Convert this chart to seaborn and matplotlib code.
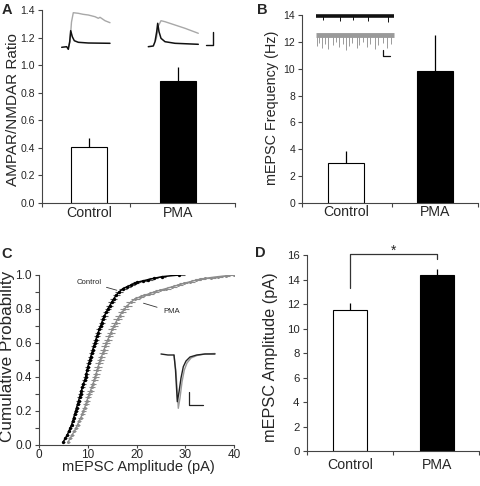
import numpy as np
import matplotlib
matplotlib.use('Agg')
import matplotlib.pyplot as plt
import seaborn as sns

sns.set_style('ticks')
plt.rcParams['font.family'] = ['Liberation Sans', 'DejaVu Sans']

# ---------------- data ----------------
groups = ['Control', 'PMA']
ratio_mean = [0.41, 0.885]
ratio_sem = [0.06, 0.105]
freq_mean = [3.0, 9.85]
freq_sem = [0.85, 2.65]
amp_mean = [11.5, 14.35]
amp_sem = [0.6, 0.5]

p_ctrl = [0.02, 0.04, 0.06, 0.08, 0.10, 0.12, 0.14, 0.16, 0.18, 0.20,
          0.22, 0.24, 0.26, 0.28, 0.30, 0.32, 0.34, 0.36, 0.38, 0.40,
          0.42, 0.44, 0.46, 0.48, 0.50, 0.52, 0.54, 0.56, 0.58, 0.60,
          0.62, 0.64, 0.66, 0.68, 0.70, 0.72, 0.74, 0.76, 0.78, 0.80,
          0.82, 0.84, 0.86, 0.88, 0.90,
          0.92, 0.93, 0.94, 0.95, 0.957, 0.966, 0.973, 0.98, 0.99, 1.00]
amp_ctrl = [5.0, 5.4, 5.8, 6.1, 6.4, 6.7, 6.9, 7.1, 7.3, 7.5,
            7.7, 7.9, 8.1, 8.3, 8.5, 8.7, 8.9, 9.1, 9.35, 9.55,
            9.7, 9.85, 10.0, 10.2, 10.4, 10.6, 10.8, 11.0, 11.2, 11.45,
            11.65, 11.85, 12.1, 12.35, 12.6, 12.85, 13.1, 13.4, 13.75, 14.1,
            14.5, 14.9, 15.3, 15.8, 16.4,
            17.2, 18.0, 18.8, 19.6, 20.1, 21.4, 22.4, 23.5, 25.2, 28.6]
amp_ctrl_err = [0.25, 0.25, 0.3, 0.3, 0.3, 0.35, 0.35, 0.35, 0.4, 0.4,
                0.4, 0.4, 0.45, 0.45, 0.45, 0.45, 0.5, 0.5, 0.5, 0.5,
                0.5, 0.5, 0.5, 0.55, 0.55, 0.55, 0.55, 0.55, 0.55, 0.6,
                0.6, 0.6, 0.6, 0.6, 0.6, 0.6, 0.65, 0.65, 0.65, 0.65,
                0.7, 0.7, 0.7, 0.7, 0.75,
                0.75, 0.8, 0.8, 0.8, 0.85, 0.85, 0.9, 0.9, 0.9, 1.2]

p_pma = [0.02, 0.04, 0.06, 0.08, 0.10, 0.12, 0.14, 0.16, 0.18, 0.20,
         0.22, 0.24, 0.26, 0.28, 0.30, 0.32, 0.34, 0.36, 0.38, 0.40,
         0.42, 0.44, 0.46, 0.48, 0.50, 0.52, 0.54, 0.56, 0.58, 0.60,
         0.62, 0.64, 0.66, 0.68, 0.70, 0.72, 0.74, 0.76, 0.78, 0.80,
         0.82, 0.84, 0.86,
         0.87, 0.88, 0.89, 0.90, 0.91, 0.92, 0.93, 0.94, 0.95, 0.96,
         0.97, 0.975, 0.98, 0.985, 0.99, 0.995, 1.00]
amp_pma = [6.0, 6.4, 6.8, 7.2, 7.6, 7.9, 8.2, 8.55, 8.85, 9.1,
           9.35, 9.6, 9.8, 10.05, 10.3, 10.55, 10.8, 11.05, 11.3, 11.5,
           11.7, 11.9, 12.1, 12.3, 12.55, 12.8, 13.05, 13.3, 13.55, 13.8,
           14.1, 14.4, 14.7, 15.0, 15.35, 15.7, 16.1, 16.5, 17.0, 17.5,
           18.1, 18.8, 19.7,
           20.6, 21.6, 22.6, 23.6, 24.8, 26.0, 27.2, 28.4, 29.6, 30.9,
           32.2, 33.0, 34.0, 35.2, 36.6, 38.2, 39.9]
amp_pma_err = [0.35, 0.4, 0.4, 0.45, 0.45, 0.5, 0.5, 0.5, 0.55, 0.55,
               0.55, 0.6, 0.6, 0.6, 0.65, 0.65, 0.65, 0.7, 0.7, 0.7,
               0.7, 0.75, 0.75, 0.75, 0.75, 0.8, 0.8, 0.8, 0.8, 0.8,
               0.85, 0.85, 0.85, 0.85, 0.85, 0.9, 0.9, 0.9, 0.9, 0.9,
               0.95, 0.95, 0.95,
               1.0, 1.0, 1.0, 1.0, 1.0, 1.0, 1.0, 1.0, 1.0, 1.0,
               1.0, 1.0, 1.0, 1.0, 1.0, 1.0, 1.0]

# evoked EPSC traces (panel A inset, local units)
a_ctrl_ampa_t = [6.7, 11.7, 13.3, 14.7, 15.7, 17.3, 19.3, 23.3, 33.3, 55]
a_ctrl_ampa_v = [7.7, 8.3, 5.7, 13.3, 24.3, 18.3, 14.3, 12.7, 12.0, 11.7]
a_ctrl_nmda_t = [13.5, 15, 16.5, 18.3, 23.3, 28, 33.3, 40, 43.3, 45, 50, 55]
a_ctrl_nmda_v = [8, 13.3, 33, 42.3, 41.7, 40.7, 40, 38.3, 36.7, 37.7, 34.3, 32.3]
a_pma_ampa_t = [93.3, 98.3, 100, 101.7, 102.7, 104, 106, 110, 120, 143.3]
a_pma_ampa_v = [8.3, 9, 13.3, 23.3, 31.7, 23.3, 16.7, 13.3, 11.7, 10.7]
a_pma_nmda_t = [100.5, 101.7, 103.3, 106, 110, 120, 130, 143.3]
a_pma_nmda_v = [14, 18.3, 29, 34.3, 33.3, 30, 26.7, 21.7]

# mEPSC raw traces (panel B inset, local units)
b_trace_t = [4, 82]
b_ctrl_level = 44.3
b_pma_level = 25.0
b_ctrl_spike_t = [11.3, 28.0, 41.3, 56.3, 76.3]
b_ctrl_spike_v = [39.5, 38.5, 40.0, 39.0, 38.0]
b_pma_spike_t = [4.7, 7.3, 9.7, 13.0, 16.3, 21.3, 24.0, 27.3, 30.7, 34.0, 37.3,
                 39.7, 44.7, 47.3, 51.3, 54.7, 58.0, 63.0, 66.3, 71.3, 75.3, 78.7]
b_pma_spike_v = [14, 17, 12, 16, 11, 15, 18, 13, 16, 10, 14,
                 17, 12, 15, 18, 13, 16, 11, 15, 17, 12, 16]

# averaged mEPSC (panel C inset, local units)
c_ctrl_t = [3, 10, 16, 17.5, 19.3, 21, 23, 25.3, 28, 32, 38.7, 47, 57]
c_ctrl_v = [1, 0, 0, -15, -46.7, -37, -23, -11.7, -6, -2, 0, 1, 1]
c_pma_t = [16, 18, 20.3, 22, 24, 26.3, 29, 33, 39, 47, 57]
c_pma_v = [0, -17, -53.3, -43, -27, -15, -8, -3, -0.5, 1, 1.5]

# ---------------- figure ----------------
fig = plt.figure(figsize=(4.8, 4.86), dpi=100)
spine_col = '#444444'


def style_axes(ax):
    sns.despine(ax=ax)
    for s in ('left', 'bottom'):
        ax.spines[s].set_color(spine_col)
        ax.spines[s].set_linewidth(0.8)
    ax.tick_params(direction='out', length=3, width=0.8, color=spine_col)


def bar_panel(rect, means, sems, xlim, mid, width, ylim, yticks, yfmt,
              ytick_size, label_pad, ylabel, ylabel_xy, ylabel_size):
    ax = fig.add_axes(rect)
    sns.barplot(x=groups, y=means, hue=groups,
                palette={'Control': 'white', 'PMA': 'black'},
                edgecolor='black', linewidth=0.8, width=width,
                legend=False, ax=ax)
    ax.errorbar([0, 1], means, yerr=[[0, 0], sems], fmt='none',
                ecolor='black', elinewidth=0.9, capsize=0, zorder=1)
    ax.set_xlim(*xlim)
    ax.set_ylim(*ylim)
    ax.set_xticks([xlim[0], mid, xlim[1]])
    ax.set_xticklabels(['', '', ''])
    ax.set_xticks([0, 1], minor=True)
    ax.set_xticklabels(groups, minor=True)
    ax.set_yticks(yticks)
    ax.set_yticklabels([yfmt.format(v) for v in yticks])
    style_axes(ax)
    ax.tick_params(axis='x', which='minor', length=0, labelsize=10.2,
                   pad=label_pad)
    ax.tick_params(axis='y', labelsize=ytick_size, pad=2.2)
    ax.set_xlabel('')
    ax.set_ylabel(ylabel, fontsize=ylabel_size)
    ax.yaxis.set_label_coords(*ylabel_xy)
    return ax


# Panel A
axA = bar_panel([0.0875, 0.5823, 0.403, 0.3965], ratio_mean, ratio_sem,
                (-0.53, 1.644), 0.46, 0.41, (0, 1.4),
                [0, 0.2, 0.4, 0.6, 0.8, 1.0, 1.2, 1.4], '{:.1f}', 7.6, 2.0,
                'AMPAR/NMDAR Ratio', (-0.112, 0.485), 11)

# Panel B
axB = bar_panel([0.6298, 0.5823, 0.366, 0.3868], freq_mean, freq_sem,
                (-0.491, 1.483), 0.513, 0.41, (0, 14),
                [0, 2, 4, 6, 8, 10, 12, 14], '{:d}', 7.5, 1.5,
                'mEPSC Frequency (Hz)', (-0.131, 0.508), 10.4)

# Panel D
axD = bar_panel([0.639, 0.0714, 0.3596, 0.4039], amp_mean, amp_sem,
                (-0.494, 1.49), 0.494, 0.39, (0, 16),
                [0, 2, 4, 6, 8, 10, 12, 14, 16], '{:d}', 8.2, 5.0,
                'mEPSC Amplitude (pA)', (-0.169, 0.48), 11.7)
br_left = amp_mean[0] + amp_sem[0] + 1.2
br_right = amp_mean[1] + amp_sem[1] + 0.85
axD.plot([0, 0, 1, 1], [br_left, 16.05, 16.05, br_right], color='#333333',
         lw=0.9, clip_on=False)
axD.text(0.5, 16.05, '*', ha='center', va='baseline', fontsize=10,
         clip_on=False)

# Panel C
axC = fig.add_axes([0.08125, 0.0844, 0.4069, 0.3498])
axC.errorbar(amp_pma, p_pma, xerr=amp_pma_err, fmt='none', ecolor='#8c8c8c',
             elinewidth=0.8, capsize=0, zorder=1)
sns.lineplot(x=amp_pma, y=p_pma, color='#8c8c8c', lw=1.0, sort=False,
             marker='o', markersize=2.2, markeredgewidth=0, ax=axC, zorder=2)
axC.errorbar(amp_ctrl, p_ctrl, xerr=amp_ctrl_err, fmt='none', ecolor='#555555',
             elinewidth=0.8, capsize=0, zorder=3)
sns.lineplot(x=amp_ctrl, y=p_ctrl, color='black', lw=1.1, sort=False,
             marker='o', markersize=2.4, markeredgewidth=0, ax=axC, zorder=4)
axC.set_xlim(0, 40)
axC.set_ylim(0, 1.0)
axC.set_xticks([0, 10, 20, 30, 40])
axC.set_yticks([0, 0.2, 0.4, 0.6, 0.8, 1.0])
axC.set_yticklabels(['{:.1f}'.format(v) for v in [0, 0.2, 0.4, 0.6, 0.8, 1.0]])
axC.set_yticks([0.1, 0.3, 0.5, 0.7, 0.9], minor=True)
style_axes(axC)
axC.tick_params(axis='y', which='minor', direction='out', length=3, width=0.8,
                color=spine_col)
axC.tick_params(axis='x', labelsize=8.5, pad=0.5, length=2.5)
axC.tick_params(axis='y', labelsize=8.6, pad=2.2)
axC.set_xlabel('mEPSC Amplitude (pA)', fontsize=10.5)
axC.xaxis.set_label_coords(0.508, -0.088)
axC.set_ylabel('Cumulative Probability', fontsize=12.3)
axC.yaxis.set_label_coords(-0.125, 0.52)
axC.annotate('Control', xy=(15.95, 0.91), xytext=(10.3, 0.956),
             fontsize=5.6, ha='center', va='center',
             arrowprops=dict(arrowstyle='-', color='#333333', lw=0.6,
                             shrinkA=1, shrinkB=0))
axC.annotate('PMA', xy=(21.4, 0.834), xytext=(27.1, 0.785),
             fontsize=5.6, ha='center', va='center',
             arrowprops=dict(arrowstyle='-', color='#333333', lw=0.6,
                             shrinkA=2, shrinkB=0))

# ---------------- insets ----------------
insA = fig.add_axes([55 / 480, 1 - 55 / 486, 165 / 480, 50 / 486])
insA.plot(a_ctrl_nmda_t, a_ctrl_nmda_v, color='#a8a8a8', lw=1.0)
insA.plot(a_ctrl_ampa_t, a_ctrl_ampa_v, color='#111111', lw=1.1)
insA.plot(a_pma_nmda_t, a_pma_nmda_v, color='#a8a8a8', lw=1.0)
insA.plot(a_pma_ampa_t, a_pma_ampa_v, color='#111111', lw=1.1)
insA.plot([151, 158, 158], [10, 10, 22.7], color='#111111', lw=1.0)
insA.set_xlim(0, 165)
insA.set_ylim(0, 50)
insA.axis('off')

insB = fig.add_axes([312 / 480, 1 - 60 / 486, 88 / 480, 52 / 486])
insB.plot(b_trace_t, [b_ctrl_level, b_ctrl_level], color='#111111', lw=2.6,
          solid_capstyle='butt')
insB.vlines(b_ctrl_spike_t, b_ctrl_level, b_ctrl_spike_v, color='#111111',
            lw=0.7)
insB.plot(b_trace_t, [b_pma_level, b_pma_level], color='#9a9a9a', lw=3.5,
          solid_capstyle='butt')
insB.vlines(b_pma_spike_t, b_pma_level, b_pma_spike_v, color='#9a9a9a',
            lw=0.7)
insB.plot([71.3, 71.3, 78], [10, 4, 4], color='#111111', lw=0.9)
insB.set_xlim(0, 88)
insB.set_ylim(0, 52)
insB.axis('off')

insC = fig.add_axes([158 / 480, 1 - 412 / 486, 62 / 480, 67 / 486])
insC.plot(c_pma_t, c_pma_v, color='#9a9a9a', lw=1.0)
insC.plot(c_ctrl_t, c_ctrl_v, color='#222222', lw=1.0)
insC.plot([31, 31, 45], [-37, -50, -50], color='#222222', lw=0.9)
insC.set_xlim(0, 62)
insC.set_ylim(-57, 10)
insC.axis('off')

# panel letters
for letter, x, y in [('A', 2 / 480, 1 - 13.5 / 486), ('B', 257 / 480, 1 - 13.5 / 486),
                     ('C', 1 / 480, 1 - 258 / 486), ('D', 255 / 480, 1 - 257 / 486)]:
    fig.text(x, y, letter, fontsize=10.5, fontweight='bold', va='baseline')

fig.savefig('out.png', dpi=100)
